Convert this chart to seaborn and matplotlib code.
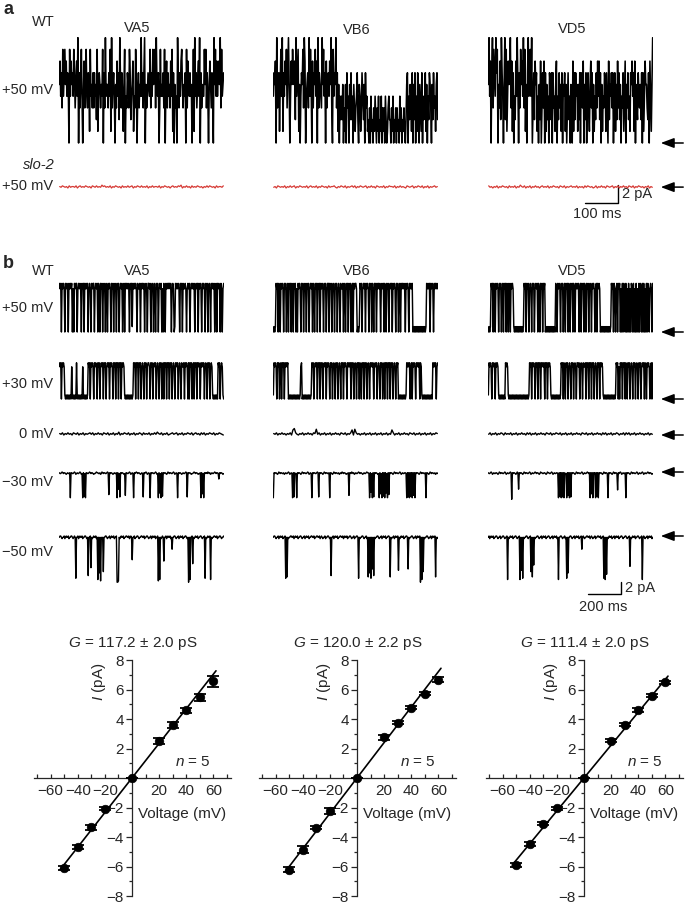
import matplotlib
matplotlib.use("Agg")
import matplotlib.pyplot as plt
import numpy as np
import seaborn as sns

# ---- data ----
# single-channel traces: one char per sample, value = int(char, 36) * unit (pA)
cells = ["VA5", "VB6", "VD5"]

a_wt = [
    "5746384685" "7465084756" "4863574906" "3584047358" "4365184536" "3645281465"
    "3548063945" "5364819356" "4053746295" "3641580436" "5386245714" "3850463549"
    "4636905346" "5483648568" "3954603845" "4638057364" "5374816053" "4095364785"
    "3546083754" "6450381946" "3574906354" "4858364057" "5364095847" "4675938456",
    "4657093561" "5849164758" "3695047586" "5729468150" "4658397045" "6394850736"
    "5847093654" "3958460735" "6475930846" "5936150424" "2503150634" "0526240531"
    "3462054136" "4250634120" "3041203142" "0314021403" "1304201342" "2031402130"
    "3120413021" "3102560425" "4160526041" "6205316042" "3615042653" "0526341562",
    "5947069386" "4968053729" "6405928147" "5693716042" "7495063857" "4938150694"
    "5849036275" "6140527036" "3706152406" "5260634157" "0426351605" "4615036240"
    "5307162645" "1526064370" "5260463157" "3605142637" "4726051436" "5163072546"
    "3604615273" "6250436147" "0536241657" "4617053264" "3526061475" "5326074159",
]
a_wt_unit = 1.3

a_slo2 = [
    "2132120312213023121321203213121423121302132120312131230213213121302131"
    "221302132120231213240213120312132120213132120312213",
    "1203212130213123021321213023121302132120312231021321302123130213212302"
    "13120321213021322130213121032123021321302130212312",
    "3120213021321203121302142130213021312023121302132120321302123121302120"
    "31321201302131203212302130213120321302132120213021",
]
a_slo2_unit = 0.08

b_rows = ["+50 mV", "+30 mV", "0 mV", "\u221230 mV", "\u221250 mV"]
b_units = [0.9, 0.67, 0.12, -0.13, -0.22]
b_traces = [
    [  # +50 mV
        "9890989809" "8980989890" "8098990898" "9809890989" "8908980989"
        "9089890980" "9890898098" "0989809890" "8980989089" "8908909898"
        "9809891989" "8980988909" "8989089809" "9890898098" "0989089890"
        "8098098989" "9890898019" "8989809890" "9889808989" "0898989089"
        "8909898098" "9809890898" "0989890890" "9898098089",
        "0101989098" "0989809890" "8909890980" "9890809898" "0989089809"
        "8908989098" "0989098909" "8980989089" "9098908980" "9890898098"
        "8909809890" "9890890989" "9801019890" "8989098980" "9890980989"
        "0989890898" "9098098908" "9890989809" "8908909898" "9809898098"
        "9890101010" "1010101010" "1019898909" "8980989898",
        "0101989098" "0989809890" "8909890980" "9809898101" "0101010101"
        "0198909890" "8980989089" "8909809890" "9890101010" "1010101098"
        "0989809890" "8909890980" "9890980989" "8908909890" "9809890898"
        "0989808909" "8980101010" "1010101019" "8909808909" "8908090980"
        "9080908098" "0908090809" "0980909080" "9098089809",
    ],
    [  # +30 mV
        "9890989810" "1010101081" "0101091010" "1010810101" "0198909898"
        "0989809890" "8989098908" "9890989809" "8909890989" "0989810101"
        "0101010198" "9098909890" "8980989089" "9809890898" "9089809890"
        "8909890989" "0989089809" "9890898098" "8909898090" "9890890989"
        "0989809898" "9089809890" "8981010101" "0989089810",
        "1989809890" "8909890989" "8901010101" "0101010101" "8901010101"
        "0101019890" "8989098909" "8908989098" "9809890898" "0989089809"
        "8909898098" "9890989089" "8098909809" "8909890898" "0989890898"
        "9089809890" "8909890989" "0989089809" "8901010101" "0101989890"
        "8909898098" "9890981010" "1010101010" "1098989089",
        "1989809898" "0989810101" "0101098981" "0101010101" "0101010101"
        "0101010101" "9890989809" "8909890989" "8909890989" "8101010101"
        "0101019890" "9809890898" "0989089809" "9890898098" "8909890989"
        "0989089809" "8909898101" "0101010101" "0101019890" "8098909890"
        "9809890898" "0989089809" "8908989098" "0989808909",
    ],
    [  # 0 mV
        "2130213120" "3213021302" "1231302131" "2032130213" "0214021321" "3021302132"
        "0312130213" "1421302130" "1231230213" "0213213023" "1203130213" "2130213210",
        "2130213120" "2130793102" "1302131203" "2813021302" "1302131203" "2130213708"
        "3120213021" "3021302130" "2130217302" "1302131203" "2130213021" "3021302132",
        "1302130213" "2031213021" "3021312031" "3021302131" "2032130213" "2130213021"
        "3021312032" "1302130213" "1203130213" "0213202130" "3130213021" "3120213021",
    ],
    [  # -30 mV
        "1221012112321221x112" "21013212210132x1v2x1" "12210121123221011221"
        "320121122101t1211232" "1221x1m2w1211232u112" "21013212x12101211232"
        "12w121013212x1211221" "0132x1r2x1v121123201" "211221013212x1211232"
        "122101w1211232210121" "123221x1s2x121120121" "32122101211291211232",
        "x1211232012112213212" "21013212x1w132x12112" "3201211221013212x121"
        "122101w1211232012112" "21x11232012112213212" "0121123221u112012132"
        "12210121123212210112" "x1q2x1w1211232x1s2x1" "v1x1r2x1t12112320121"
        "12210132122112x1w1x1" "v1x1u1x1211232012112" "21x11232012112213212",
        "12210132122112320121" "12210132122101z12112" "3201m121123201211221"
        "01321221012112320112" "21123201122101321221" "12x1v1x1w1x132x1u1x1"
        "w1211232012112210132" "12210121x1s1x121x1v1" "x1211232012112x12112"
        "32012112n12101321221" "x1211232012112210132" "12210132122101211232",
    ],
    [  # -50 mV
        "10012110210110211001" "2101w110210110211001" "21u110o121011021x1s1"
        "y121r110012110210110" "2110zzy1210110211001" "102101i1102110012110"
        "01102110012110210110" "2110y1x12101j1102101" "1021a110012110210110"
        "21100121z1x110l12101" "102110012110w1210110" "x1211001102110012110",
        "100121102101102110w1" "v1211001102101102110" "01211021011021100110"
        "21100110210121102110" "0121u110210110211001" "10210110211001211021"
        "1001w1211001211021v1" "s1w1p1u1211001211021" "0110211001v121102101"
        "10q1210110211001p121" "10012110210110z1x1r1" "2110012110210110v121",
        "10210110211001211021" "10012110x12101102110" "012110x1q1w121100121"
        "10r1v1m1211001211021" "01102110012110210110" "21x11001211021w1s110"
        "0121102101102110a101" "21100110210121102110" "01102110w1x1t1210110"
        "21102101102110012110" "012110n1210110211001" "2110x101211021011021",
    ],
]

# I-V relations
iv_v = [-50, -40, -30, -20, 0, 20, 30, 40, 50, 60]
iv_i = [
    [-6.10, -4.68, -3.35, -2.08, 0, 2.49, 3.62, 4.59, 5.47, 6.55],
    [-6.21, -4.86, -3.37, -2.24, 0, 2.76, 3.75, 4.77, 5.72, 6.67],
    [-5.88, -4.47, -3.10, -2.06, 0, 2.53, 3.62, 4.61, 5.58, 6.49],
]
iv_err = [
    [0.12, 0.15, 0.15, 0.12, 0, 0.2, 0.2, 0.18, 0.25, 0.35],
    [0.15, 0.25, 0.12, 0.2, 0, 0.15, 0.12, 0.1, 0.12, 0.15],
    [0.15, 0.15, 0.1, 0.12, 0, 0.1, 0.1, 0.12, 0.1, 0.1],
]
g_mean = [117.2, 120.0, 111.4]
g_sem = [2.0, 2.2, 2.0]

# ---- figure ----
sns.set_style("ticks")
plt.rcParams["font.family"] = ["Liberation Sans", "DejaVu Sans"]
plt.rcParams["mathtext.fontset"] = "custom"
plt.rcParams["mathtext.it"] = "Liberation Sans:italic"
plt.rcParams["mathtext.rm"] = "Liberation Sans"

W, H = 685, 905
fig = plt.figure(figsize=(W / 100, H / 100), dpi=100)

col_x = [59, 273, 488]
TRACE_W = 165


def box(x0, top, w, h):
    return [x0 / W, 1 - (top + h) / H, w / W, h / H]


def ftext(x, y, s, **kw):
    fig.text(x / W, 1 - y / H, s, **kw)


def draw_trace(code, unit, x0, y_base, px_pa, dur, color="k", lw=1.0):
    vals = np.array([int(c, 36) for c in code]) * unit
    lo, hi = -14, 14
    ax = fig.add_axes(box(x0, y_base - hi * px_pa, TRACE_W, (hi - lo) * px_pa))
    t = (np.arange(len(vals)) + 0.5) * dur / len(vals)
    sns.lineplot(x=t, y=vals, ax=ax, color=color, lw=lw, estimator=None,
                 sort=False)
    ax.set_xlim(0, dur)
    ax.set_ylim(lo, hi)
    ax.axis("off")
    return ax


def arrow(ax, y=0):
    ax.annotate("", xy=(1.03, y), xycoords=("axes fraction", "data"),
                xytext=(1.2, y), textcoords=("axes fraction", "data"),
                arrowprops=dict(arrowstyle="-|>,head_length=0.8,head_width=0.3",
                                color="k", lw=1.1, mutation_scale=10),
                annotation_clip=False)


fs = 10.5

# panel a
ftext(3, 9, "a", fontsize=13, fontweight="bold", va="center")
ftext(43, 22, "WT", fontsize=fs, ha="center", va="center")
for x, name, y in zip([137, 357, 572], cells, [28, 30, 29]):
    ftext(x, y, name, fontsize=fs, ha="center", va="center")
ftext(53, 90, "+50 mV", fontsize=fs, ha="right", va="center")
ftext(55, 165, "slo-2", fontsize=fs, ha="right", va="center", style="italic")
ftext(53, 186, "+50 mV", fontsize=fs, ha="right", va="center")

for k in range(3):
    ax_a = draw_trace(a_wt[k], a_wt_unit, col_x[k], 143, 9, 500, lw=1.15)
    ax_r = draw_trace(a_slo2[k], a_slo2_unit, col_x[k], 188, 9, 500,
                      color="#d63a35", lw=0.9)
arrow(ax_a)
arrow(ax_r, 0.1)
# scale bar a: 100 ms / 2 pA
ax_a.plot([294, 394, 394], [-6.67, -6.67, -4.67], color="k", lw=1, clip_on=False)
ax_a.text(406, -5.7, "2 pA", fontsize=fs, ha="left", va="center")
ax_a.text(330, -7.9, "100 ms", fontsize=fs, ha="center", va="center")

# panel b
ftext(3, 264, "b", fontsize=13, fontweight="bold", va="center")
ftext(43, 271, "WT", fontsize=fs, ha="center", va="center")
for x, name in zip([137, 357, 572], cells):
    ftext(x, 271, name, fontsize=fs, ha="center", va="center")

row_base = [332, 399, 435, 472, 536]
row_label_y = [308, 384, 434, 482, 552]
row_lw = [1.05, 1.05, 1.0, 1.0, 1.0]
for r in range(5):
    ftext(53, row_label_y[r], b_rows[r], fontsize=fs, ha="right", va="center")
    for k in range(3):
        ax_b = draw_trace(b_traces[r][k], b_units[r], col_x[k], row_base[r], 6,
                          1000, lw=row_lw[r])
    arrow(ax_b)
# scale bar b: 200 ms / 2 pA
ax_b.plot([606, 806, 806], [-9.67, -9.67, -7.67], color="k", lw=1, clip_on=False)
ax_b.text(830, -8.6, "2 pA", fontsize=fs, ha="left", va="center")
ax_b.text(700, -11.8, "200 ms", fontsize=fs, ha="center", va="center")

# I-V plots
iv_x0 = [34.4, 259.4, 486.4]
for k in range(3):
    ax = fig.add_axes(box(iv_x0[k], 660, 196.5, 236))
    ax.patch.set_alpha(0)
    fit_v = np.array([-53, 62])
    sns.lineplot(x=fit_v, y=g_mean[k] / 1000 * fit_v, ax=ax, color="k", lw=1.2)
    ax.errorbar(iv_v, iv_i[k], yerr=iv_err[k], fmt="none", ecolor="k",
                elinewidth=1.2, capsize=4.5, capthick=1.3, zorder=3)
    sns.scatterplot(x=iv_v, y=iv_i[k], ax=ax, color="k", s=38, edgecolor="k",
                    zorder=4)
    ax.set_xlim(-72, 73)
    ax.set_ylim(-8, 8)
    ax.spines["left"].set_position(("data", 0))
    ax.spines["bottom"].set_position(("data", 0))
    ax.spines[["top", "right"]].set_visible(False)
    for s in ["left", "bottom"]:
        ax.spines[s].set_linewidth(0.9)
    ax.set_xticks([-60, -40, -20, 20, 40, 60])
    ax.set_xticks(np.arange(-70, 71, 10), minor=True)
    ax.set_yticks([-8, -6, -4, -2, 2, 4, 6, 8])
    ax.set_yticks([-7, -5, -3, -1, 1, 3, 5, 7], minor=True)
    ax.tick_params(axis="x", which="both", direction="in", length=3, width=0.9,
                   labelsize=11, pad=4)
    ax.tick_params(axis="y", which="major", direction="out", length=4,
                   width=0.9, labelsize=11, pad=2)
    ax.tick_params(axis="y", which="minor", direction="out", length=2.5,
                   width=0.9)
    ax.set_xlabel("")
    ax.set_ylabel("")
    ax.text(-24, 6.5, "$I$ (pA)", rotation=90, ha="center", va="center",
            fontsize=11)
    ax.text(37, -2.45, "Voltage (mV)", ha="center", va="center", fontsize=11)
    ax.text(45, 1.1, "$n$ = 5", ha="center", va="center", fontsize=11)
    ax.text(0.5, 1.072, f"$G$ = {g_mean[k]:.1f} \u00b1 {g_sem[k]:.1f} pS",
            transform=ax.transAxes, ha="center", va="center", fontsize=11)

fig.savefig("out.png", dpi=100, facecolor="white")
